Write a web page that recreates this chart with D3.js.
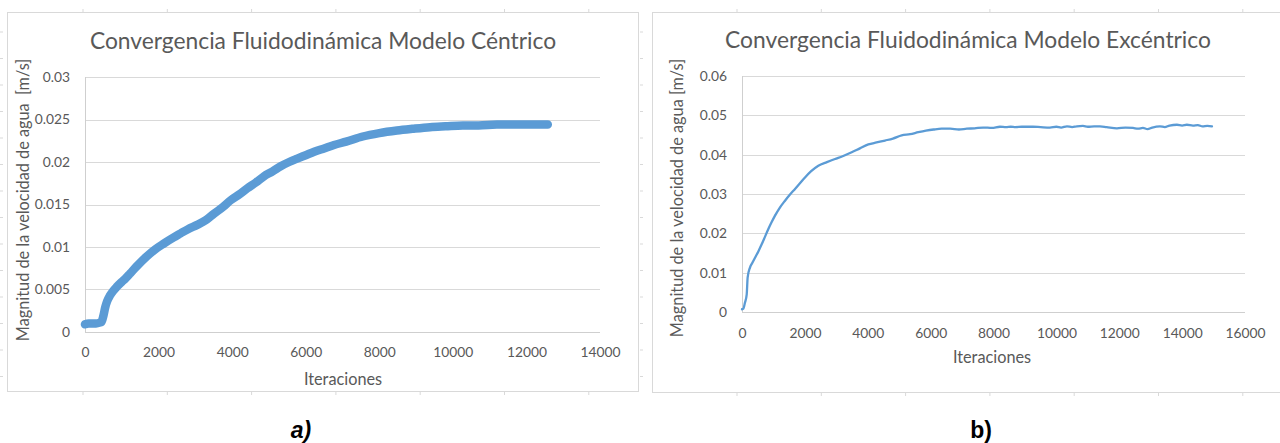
<!DOCTYPE html>
<html>
<head>
<meta charset="utf-8">
<script src="https://cdnjs.cloudflare.com/ajax/libs/d3/7.8.5/d3.min.js"></script>
<style>
  body { margin: 0; background: #fff; }
  svg { display: block; }
</style>
</head>
<body>
<div id="chart"></div>
<script>
// a) modelo céntrico
const centricIter = [0, 100, 200, 300, 400, 450, 500, 550, 600, 680,
  760, 860, 1000, 1100, 1230, 1400, 1680, 1900, 2140, 2400,
  2600, 2800, 3050, 3300, 3500, 3750, 3960, 4200, 4410, 4650,
  4860, 5100, 5320, 5550, 5770, 6000, 6230, 6500, 6770, 7100,
  7550, 8000, 8480, 8900, 9380, 9800, 10270, 10700, 11200, 11700,
  12200, 12580];
const centricVel = [0.0009, 0.001, 0.001, 0.001, 0.0011, 0.0012, 0.0019, 0.0029, 0.0036, 0.0043,
  0.0048, 0.0053, 0.0059, 0.0063, 0.0069, 0.0077, 0.0089, 0.0097, 0.0104, 0.0111,
  0.0116, 0.0121, 0.0126, 0.0132, 0.0139, 0.0147, 0.0155, 0.0162, 0.0169, 0.0176,
  0.0183, 0.0189, 0.0195, 0.0200, 0.0204, 0.0208, 0.0212, 0.0216, 0.0220, 0.0224,
  0.0230, 0.0234, 0.0237, 0.0239, 0.0241, 0.0242, 0.0243, 0.0243, 0.0244, 0.0244,
  0.0244, 0.0244];

// b) modelo excéntrico
const eccentricIter = [0, 40, 95, 150, 180, 254, 330, 414, 520, 626,
  730, 838, 940, 1050, 1200, 1368, 1520, 1686, 1850, 2004,
  2200, 2428, 2700, 2958, 3200, 3489, 3750, 4019, 4280, 4549,
  4800, 5079, 5350, 5609, 5850, 6096, 6350, 6620, 6900, 7150,
  7400, 7670, 7950, 8206, 8400, 8550, 8700, 8900, 9260, 9500,
  9796, 10000, 10150, 10337, 10500, 10650, 10846, 11000, 11200, 11387,
  11600, 11927, 12200, 12436, 12600, 12754, 12900, 13050, 13295, 13450,
  13600, 13836, 14000, 14150, 14345, 14500, 14650, 14800, 14949];
const eccentricVel = [0.0007, 0.0008, 0.0024, 0.0045, 0.0088, 0.0113, 0.0125, 0.0138, 0.0154, 0.0172,
  0.0191, 0.0211, 0.0228, 0.0245, 0.0265, 0.0283, 0.0298, 0.0313, 0.0328, 0.0342,
  0.0358, 0.0372, 0.0381, 0.0389, 0.0396, 0.0406, 0.0416, 0.0426, 0.0431, 0.0436,
  0.0441, 0.0449, 0.0452, 0.0457, 0.0461, 0.0464, 0.0466, 0.0466, 0.0464, 0.0466,
  0.0467, 0.0469, 0.0468, 0.0471, 0.0470, 0.0471, 0.0470, 0.0471, 0.0471, 0.0470,
  0.0469, 0.0471, 0.0469, 0.0472, 0.0470, 0.0472, 0.0473, 0.0471, 0.0472, 0.0472,
  0.0470, 0.0467, 0.0469, 0.0468, 0.0466, 0.0468, 0.0465, 0.0469, 0.0472, 0.0470,
  0.0474, 0.0476, 0.0474, 0.0476, 0.0474, 0.0475, 0.0472, 0.0473, 0.0472];

const centricYTicks = [0, 0.005, 0.01, 0.015, 0.02, 0.025, 0.03];
const centricXTicks = [0, 2000, 4000, 6000, 8000, 10000, 12000, 14000];
const eccentricYTicks = [0, 0.01, 0.02, 0.03, 0.04, 0.05, 0.06];
const eccentricXTicks = [0, 2000, 4000, 6000, 8000, 10000, 12000, 14000, 16000];

const textColor = "#595959";
const gridColor = "#d9d9d9";
const lineColor = "#5b9bd5";
const font = "Lato, 'Open Sans', sans-serif";

let svg = d3.select("#chart").append("svg")
  .attr("width", 1280)
  .attr("height", 443);

function drawPanel(p) {
  let g = svg.append("g");

  // faint page marks around the chart frame
  let marks = d3.range(7);
  g.selectAll(".mark-top").data(marks).enter().append("line")
    .attr("x1", i => p.markX + i * 84.3).attr("x2", i => p.markX + i * 84.3)
    .attr("y1", p.box.y - 3).attr("y2", p.box.y)
    .attr("stroke", gridColor);
  g.selectAll(".mark-bottom").data(marks).enter().append("line")
    .attr("x1", i => p.markX + i * 84.3).attr("x2", i => p.markX + i * 84.3)
    .attr("y1", p.box.y + p.box.h).attr("y2", p.box.y + p.box.h + 4)
    .attr("stroke", gridColor);
  g.selectAll(".mark-left").data(d3.range(14)).enter().append("line")
    .attr("x1", p.box.x - p.markGap - 3).attr("x2", p.box.x - p.markGap)
    .attr("y1", i => 32 + i * 26.5).attr("y2", i => 32 + i * 26.5)
    .attr("stroke", gridColor);

  g.append("rect")
    .attr("x", p.box.x + 0.5).attr("y", p.box.y + 0.5)
    .attr("width", p.box.w).attr("height", p.box.h)
    .attr("fill", "#fff")
    .attr("stroke", gridColor);

  let x = d3.scaleLinear().domain([0, p.xTicks[p.xTicks.length - 1]]).range([p.left, p.right]);
  let y = d3.scaleLinear().domain([0, p.yTicks[p.yTicks.length - 1]]).range([p.bottom, p.top]);

  g.selectAll(".grid").data(p.yTicks).enter().append("line")
    .attr("x1", p.left).attr("x2", p.right)
    .attr("y1", d => Math.round(y(d)) + 0.5).attr("y2", d => Math.round(y(d)) + 0.5)
    .attr("stroke", d => d == 0 ? "#cfcfcf" : gridColor);

  g.append("line")
    .attr("x1", p.left + 0.5).attr("x2", p.left + 0.5)
    .attr("y1", p.top).attr("y2", p.bottom)
    .attr("stroke", "#cfcfcf");

  let yAxis = g.append("g")
    .attr("transform", "translate(" + p.left + ",0)")
    .call(d3.axisLeft(y).tickValues(p.yTicks).tickFormat(d => String(d)).tickSize(0).tickPadding(15));
  let xAxis = g.append("g")
    .attr("transform", "translate(0," + p.bottom + ")")
    .call(d3.axisBottom(x).tickValues(p.xTicks).tickFormat(d => String(d)).tickSize(0).tickPadding(p.xPad));
  [yAxis, xAxis].forEach(a => {
    a.select(".domain").remove();
    a.selectAll("text")
      .attr("fill", textColor)
      .attr("font-family", font)
      .attr("font-size", "13.8px");
  });

  let line = d3.line()
    .x((d, i) => x(p.iter[i]))
    .y(d => y(d))
    .curve(d3.curveMonotoneX);
  g.append("path")
    .datum(p.vel)
    .attr("d", line)
    .attr("fill", "none")
    .attr("stroke", lineColor)
    .attr("stroke-width", p.lineWidth)
    .attr("stroke-linecap", "round")
    .attr("stroke-linejoin", "round");

  g.append("text")
    .attr("x", p.titleX).attr("y", p.titleY)
    .attr("text-anchor", "middle")
    .attr("font-family", font)
    .attr("font-size", "22.8px")
    .attr("fill", textColor)
    .text(p.title);

  g.append("text")
    .attr("x", p.xTitleX).attr("y", p.xTitleY)
    .attr("text-anchor", "middle")
    .attr("font-family", font)
    .attr("font-size", "16.3px")
    .attr("fill", textColor)
    .text("Iteraciones");

  g.append("text")
    .attr("transform", "translate(" + p.yTitleX + "," + p.yTitleY + ") rotate(-90)")
    .attr("text-anchor", "middle")
    .attr("font-family", font)
    .attr("font-size", "16.3px")
    .attr("fill", textColor)
    .style("white-space", "pre")
    .text(p.yTitle);

  g.append("text")
    .attr("x", p.tagX).attr("y", 438)
    .attr("text-anchor", "middle")
    .attr("font-family", "'Liberation Sans', Arial, sans-serif")
    .attr("font-weight", "bold")
    .attr("font-style", p.tagItalic ? "italic" : "normal")
    .attr("font-size", "23px")
    .attr("fill", "#000")
    .text(p.tag);
}

drawPanel({
  box: { x: 7, y: 12, w: 631, h: 379 }, markX: 83, markGap: 4,
  left: 85, right: 600, top: 77, bottom: 332, xPad: 15,
  iter: centricIter, vel: centricVel, xTicks: centricXTicks, yTicks: centricYTicks,
  lineWidth: 8.5,
  title: "Convergencia Fluidodinámica Modelo Céntrico", titleX: 323, titleY: 49,
  xTitleX: 343, xTitleY: 385,
  yTitle: "Magnitud de la velocidad de agua  [m/s]", yTitleX: 29, yTitleY: 200,
  tag: "a)", tagX: 301, tagItalic: true
});

drawPanel({
  box: { x: 652, y: 12, w: 700, h: 380 }, markX: 737, markGap: 9,
  left: 742, right: 1245, top: 76, bottom: 312, xPad: 16,
  iter: eccentricIter, vel: eccentricVel, xTicks: eccentricXTicks, yTicks: eccentricYTicks,
  lineWidth: 2.3,
  title: "Convergencia Fluidodinámica Modelo Excéntrico", titleX: 968, titleY: 48,
  xTitleX: 992, xTitleY: 363,
  yTitle: "Magnitud de la velocidad de agua [m/s]", yTitleX: 683, yTitleY: 198,
  tag: "b)", tagX: 981, tagItalic: false
});
</script>
</body>
</html>
